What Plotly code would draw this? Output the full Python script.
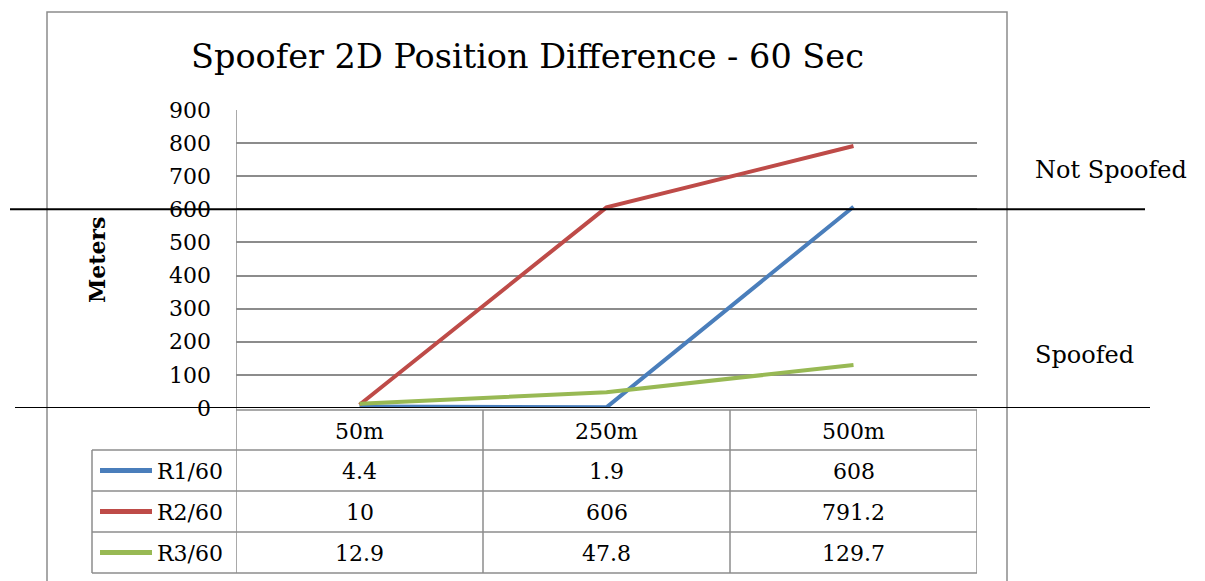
import plotly.graph_objects as go

categories = ["50m", "250m", "500m"]
series_names = ["R1/60", "R2/60", "R3/60"]
r1_values = [4.4, 1.9, 608]
r2_values = [10, 606, 791.2]
r3_values = [12.9, 47.8, 129.7]
series_values = [r1_values, r2_values, r3_values]
series_colors = ["#4A7EBB", "#BE4B48", "#98B954"]
y_ticks = [0, 100, 200, 300, 400, 500, 600, 700, 800, 900]
threshold = 600
title_text = "Spoofer 2D Position Difference - 60 Sec"

W, H = 1205, 581
FONT = "DejaVu Serif"
GRID = "#8c8c8c"
TXT = 22


def px(x):
    return x / W


def py(y):
    return 1 - y / H


def label(x, y, text, size, xref="paper", xanchor="center", angle=0):
    return dict(x=x, y=y, xref=xref, yref="paper", xanchor=xanchor, yanchor="middle",
                text=text, showarrow=False, textangle=angle,
                font=dict(family=FONT, size=size, color="black"))


fig = go.Figure()
xs = list(range(len(categories)))
for name, vals, col in zip(series_names, series_values, series_colors):
    fig.add_trace(go.Scatter(x=xs, y=vals, mode="lines", name=name,
                             line=dict(color=col, width=4), showlegend=False))

shapes = []
annotations = []

# outer chart border
shapes.append(dict(type="rect", xref="paper", yref="paper",
                   x0=px(47), x1=px(1007), y0=py(600), y1=py(12),
                   line=dict(color=GRID, width=1.5)))

# data table rows (pixel rows)
row_edges = [410, 450, 491, 532, 573]
shapes.append(dict(type="line", xref="x", yref="paper", x0=-0.5, x1=len(categories) - 0.5,
                   y0=py(row_edges[0]), y1=py(row_edges[0]), line=dict(color=GRID, width=1.5)))
for ry in row_edges[1:]:
    shapes.append(dict(type="line", xref="paper", yref="paper", x0=px(92), x1=px(977),
                       y0=py(ry), y1=py(ry), line=dict(color=GRID, width=1.5)))
shapes.append(dict(type="line", xref="paper", yref="paper", x0=px(92), x1=px(92),
                   y0=py(row_edges[1]), y1=py(row_edges[-1]), line=dict(color=GRID, width=1.5)))
shapes.append(dict(type="line", xref="x", yref="paper", x0=-0.5, x1=-0.5,
                   y0=py(110), y1=py(row_edges[-1]), line=dict(color=GRID, width=1.5)))
for i in range(len(categories)):
    xb = i + 0.5
    shapes.append(dict(type="line", xref="x", yref="paper", x0=xb, x1=xb,
                       y0=py(row_edges[0]), y1=py(row_edges[-1]), line=dict(color=GRID, width=1.5)))

for i, c in enumerate(categories):
    annotations.append(label(i, py((row_edges[0] + row_edges[1]) / 2 + 1), c, TXT, xref="x"))
for r, (name, vals, col) in enumerate(zip(series_names, series_values, series_colors)):
    ymid = (row_edges[r + 1] + row_edges[r + 2]) / 2
    yc = py(ymid)
    shapes.append(dict(type="line", xref="paper", yref="paper", x0=px(100), x1=px(152),
                       y0=yc, y1=yc, line=dict(color=col, width=5)))
    annotations.append(label(px(155), py(ymid + 1), name, TXT, xanchor="left"))
    for i, v in enumerate(vals):
        annotations.append(label(i, py(ymid + 1), f"{v:g}", TXT, xref="x"))

shapes.append(dict(type="line", xref="paper", yref="y", x0=px(10), x1=px(1145),
                   y0=threshold, y1=threshold, line=dict(color="black", width=2)))
shapes.append(dict(type="line", xref="paper", yref="y", x0=px(15), x1=px(1150),
                   y0=0, y1=0, line=dict(color="black", width=2)))

annotations.append(label(px(1033), py(170), "Not Spoofed", 24, xanchor="left"))
annotations.append(label(px(1033), py(355), "Spoofed", 24, xanchor="left"))
annotations.append(label(px(97), py(260), "<b>Meters</b>", 22, angle=-90))
annotations.append(label(px(527), py(57), title_text, 33.5))

fig.update_layout(
    width=W, height=H,
    margin=dict(l=0, r=0, t=0, b=0, pad=0, autoexpand=False),
    paper_bgcolor="white", plot_bgcolor="white",
    showlegend=False,
    xaxis=dict(domain=[px(236), px(977)], range=[-0.5, len(categories) - 0.5], automargin=False,
               showgrid=False, showticklabels=False, zeroline=False, showline=False),
    yaxis=dict(domain=[py(408), py(110)], range=[0, 900], tickvals=y_ticks, automargin=False,
               showgrid=True, gridcolor=GRID, gridwidth=1.5, zeroline=False, showline=False,
               ticks="", ticklabelstandoff=24,
               tickfont=dict(family=FONT, size=TXT, color="black")),
    shapes=shapes, annotations=annotations,
)

fig.write_html("out.html", config={"displayModeBar": False},
               post_script="document.body.style.margin='0';")
